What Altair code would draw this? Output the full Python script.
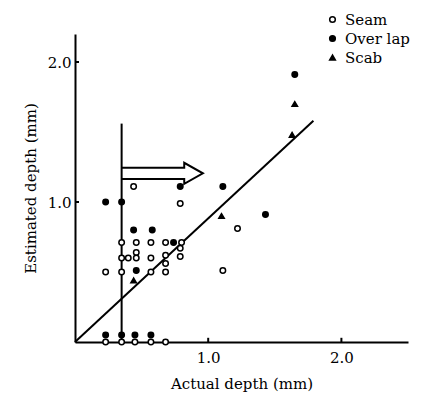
import altair as alt
import pandas as pd

# ---- data ----
types = ["Seam", "Over lap", "Scab"]

seam_x = [0.44, 0.79, 0.35, 0.46, 0.57, 0.68, 0.80, 0.46, 0.35, 0.40, 0.46, 0.57,
          0.68, 0.79, 0.79, 0.68, 0.68, 0.23, 0.35, 0.57, 1.22, 1.11,
          0.23, 0.35, 0.45, 0.57, 0.68]
seam_y = [1.11, 0.99, 0.71, 0.71, 0.71, 0.71, 0.71, 0.64, 0.60, 0.60, 0.60, 0.60,
          0.62, 0.67, 0.61, 0.56, 0.50, 0.50, 0.50, 0.50, 0.81, 0.51,
          0.0, 0.0, 0.0, 0.0, 0.0]

overlap_x = [0.79, 1.11, 0.23, 0.35, 0.44, 0.58, 0.46, 1.65, 1.43, 0.74,
             0.23, 0.35, 0.45, 0.57]
overlap_y = [1.11, 1.11, 1.00, 1.00, 0.80, 0.80, 0.51, 1.91, 0.91, 0.71,
             0.05, 0.05, 0.05, 0.05]

scab_x = [1.65, 1.63, 1.10, 0.44]
scab_y = [1.70, 1.48, 0.90, 0.44]

fit_x = [0.0, 1.79]
fit_y = [0.0, 1.58]

limit_x = 0.35
limit_top = 1.56

arrow_x = [0.35, 0.82, 0.82, 0.96, 0.82, 0.82, 0.35]
arrow_y = [1.245, 1.245, 1.28, 1.205, 1.13, 1.165, 1.165]

x_ticks = [1.0, 2.0]
y_ticks = [1.0, 2.0]

# ---- build tables ----
rows = []
for xv, yv in zip(seam_x, seam_y):
    rows.append({"actual": xv, "est": yv, "type": "Seam"})
for xv, yv in zip(overlap_x, overlap_y):
    rows.append({"actual": xv, "est": yv, "type": "Over lap"})
for xv, yv in zip(scab_x, scab_y):
    rows.append({"actual": xv, "est": yv, "type": "Scab"})
pts = pd.DataFrame(rows)

fit = pd.DataFrame({"actual": fit_x, "est": fit_y})
arrow = pd.DataFrame({"actual": arrow_x, "est": arrow_y, "o": list(range(len(arrow_x)))})
limit = pd.DataFrame({"actual": [limit_x], "y0": [0.0], "y1": [limit_top]})
xt = pd.DataFrame({"v": x_ticks, "a": [0.0] * len(x_ticks), "b": [0.03] * len(x_ticks)})
yt = pd.DataFrame({"v": y_ticks, "a": [0.0] * len(y_ticks), "b": [0.03] * len(y_ticks)})

FONT = "DejaVu Serif"
xs = alt.Scale(domain=[0, 2.5], nice=False, zero=False)
ys = alt.Scale(domain=[0, 2.2], nice=False, zero=False)

xaxis = alt.Axis(values=x_ticks, format=".1f", title="Actual depth (mm)", ticks=False,
                 grid=False, labelPadding=8, titlePadding=11)
yaxis = alt.Axis(values=y_ticks, format=".1f", title="Estimated depth (mm)", ticks=False,
                 grid=False, labelPadding=4, titlePadding=9)

leg = alt.Legend(title=None, orient="none", legendX=250, legendY=-22,
                 labelFont=FONT, labelFontSize=15, labelColor="black",
                 symbolSize=32, symbolStrokeWidth=1.5,
                 rowPadding=3, labelOffset=5, padding=0)

points = alt.Chart(pts).mark_point(filled=True, strokeWidth=1.5,
                                   opacity=1, size=30).encode(
    x=alt.X("actual:Q", scale=xs, axis=xaxis),
    y=alt.Y("est:Q", scale=ys, axis=yaxis),
    shape=alt.Shape("type:N", scale=alt.Scale(domain=types,
                    range=["circle", "circle", "triangle-up"]), legend=leg),
    fill=alt.Fill("type:N", scale=alt.Scale(domain=types,
                  range=["white", "black", "black"]), legend=leg),
    stroke=alt.Stroke("type:N", scale=alt.Scale(domain=types,
                      range=["black", "black", "black"]), legend=leg),
)

fit_line = alt.Chart(fit).mark_line(color="black", strokeWidth=2).encode(
    x=alt.X("actual:Q", scale=xs), y=alt.Y("est:Q", scale=ys))

limit_rule = alt.Chart(limit).mark_rule(color="black", strokeWidth=2).encode(
    x=alt.X("actual:Q", scale=xs), y=alt.Y("y0:Q", scale=ys), y2="y1:Q")

arrow_line = alt.Chart(arrow).mark_line(color="black", strokeWidth=2).encode(
    x=alt.X("actual:Q", scale=xs), y=alt.Y("est:Q", scale=ys), order="o:Q")

xtick = alt.Chart(xt).mark_rule(color="black", strokeWidth=2).encode(
    x=alt.X("v:Q", scale=xs), y=alt.Y("a:Q", scale=ys), y2="b:Q")
ytick = alt.Chart(yt).mark_rule(color="black", strokeWidth=2).encode(
    y=alt.Y("v:Q", scale=ys), x=alt.X("a:Q", scale=xs), x2="b:Q")

chart = alt.layer(limit_rule, arrow_line, fit_line, xtick, ytick, points).properties(
    width=333, height=308,
    autosize=alt.AutoSizeParams(type="none"),
    padding={"left": 67, "top": 26, "right": 17, "bottom": 55},
).configure_view(stroke=None).configure_axis(
    domainColor="black", domainWidth=2, labelFont=FONT, labelFontSize=15,
    labelColor="black", titleFont=FONT, titleFontSize=15, titleFontWeight="normal",
    titleColor="black",
)

chart.save("out.html", embed_options={"renderer": "svg", "actions": False})
